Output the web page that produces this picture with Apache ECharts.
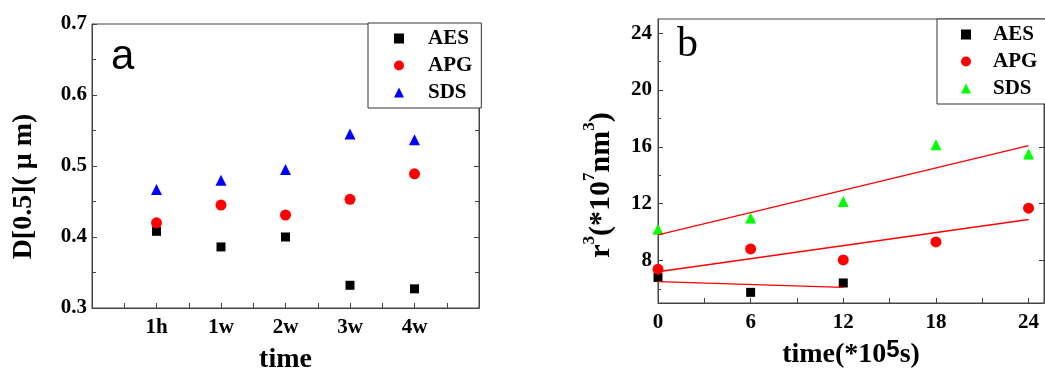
<!DOCTYPE html>
<html><head><meta charset="utf-8">
<script src="https://cdn.jsdelivr.net/npm/echarts@6/dist/echarts.min.js"></script>
<style>html,body{margin:0;padding:0;background:#fff}#c{width:1045px;height:369px}</style>
</head><body><div id="c"></div>
<script>
// Panel a
const catA = ['1h', '1w', '2w', '3w', '4w'];
const posA = [1, 2, 3, 4, 5];
const aesA = [0.408, 0.386, 0.400, 0.332, 0.327];
const apgA = [0.420, 0.445, 0.431, 0.453, 0.489];
const sdsA = [0.467, 0.480, 0.495, 0.545, 0.537];
// Panel b
const timeAesB = [0, 6, 12];
const aesB = [6.8, 5.75, 6.41];
const timeB = [0, 6, 12, 18, 24];
const apgB = [7.38, 8.81, 8.03, 9.3, 11.68];
const sdsB = [10.2, 10.98, 12.15, 16.15, 15.5];
const fitXAes = [0, 12];
const fitAes = [6.5, 6.1];
const fitX = [0, 24];
const fitApg = [7.2, 10.88];
const fitSds = [9.8, 16.08];
const yMajorB = [8, 12, 16, 20, 24];
const yMinorB = [6, 10, 14, 18, 22];

const SERIF = 'Liberation Serif';
const AX = '#444';
const zip = (xs, ys) => xs.map((x, i) => [x, ys[i]]);
const tickFont = { fontFamily: SERIF, fontWeight: 'bold', fontSize: 21, color: '#000' };

const chart = echarts.init(document.getElementById('c'), null, { renderer: 'canvas' });
const option = {
  animation: false,
  backgroundColor: '#fff',
  grid: [
    { left: 92, top: 24, width: 387, height: 284, outerBoundsMode: 'none', containLabel: false, show: true, borderColor: AX, borderWidth: 1, backgroundColor: 'transparent' },
    { left: 658, top: 19, width: 386, height: 284, outerBoundsMode: 'none', containLabel: false, show: true, borderColor: AX, borderWidth: 1, backgroundColor: 'transparent' }
  ],
  xAxis: [
    { gridIndex: 0, type: 'value', min: 0, max: 6, interval: 1,
      axisLine: { show: true, lineStyle: { color: AX, width: 1 } },
      axisTick: { show: true, inside: true, length: 5, lineStyle: { color: AX } },
      minorTick: { show: true, splitNumber: 2, length: 5, lineStyle: { color: AX } },
      splitLine: { show: false }, minorSplitLine: { show: false },
      axisLabel: Object.assign({ margin: 9, formatter: v => { const i = posA.indexOf(v); return i >= 0 ? catA[i] : ''; } }, tickFont),
      name: 'time', nameLocation: 'middle', nameGap: 38,
      nameTextStyle: { fontFamily: SERIF, fontWeight: 'bold', fontSize: 28, color: '#000' } },
    { gridIndex: 1, type: 'value', min: 0, max: 25, interval: 3,
      axisLine: { show: true, lineStyle: { color: AX, width: 1 } },
      axisTick: { show: true, inside: true, length: 5, lineStyle: { color: AX } },
      splitLine: { show: false },
      axisLabel: Object.assign({ margin: 9, formatter: v => (v % 6 === 0 ? String(v) : '') }, tickFont),
      name: '{m|time(*10}{e|5}{m|s)}', nameLocation: 'middle', nameGap: 31,
      nameTextStyle: { rich: {
        m: { fontFamily: SERIF, fontWeight: 'bold', fontSize: 28, color: '#000' },
        e: { fontFamily: 'Liberation Sans', fontWeight: 'bold', fontSize: 24, color: '#000', verticalAlign: 'top', padding: [0, 0, 10, 0] }
      } } }
  ],
  yAxis: [
    { gridIndex: 0, type: 'value', min: 0.3, max: 0.7, interval: 0.1, position: 'left',
      axisLine: { show: true, lineStyle: { color: AX, width: 1 } },
      axisTick: { show: true, inside: true, length: 5, lineStyle: { color: AX } },
      minorTick: { show: true, splitNumber: 2, length: 4, lineStyle: { color: AX } },
      splitLine: { show: false }, minorSplitLine: { show: false },
      axisLabel: Object.assign({ margin: 5, formatter: v => v.toFixed(1) }, tickFont),
      name: 'D[0.5]( μ m)', nameLocation: 'middle', nameGap: 54,
      nameTextStyle: { fontFamily: SERIF, fontWeight: 'bold', fontSize: 28, color: '#000', padding: [0, 41, 0, 0] } },
    { gridIndex: 0, type: 'value', min: 0.3, max: 0.7, interval: 0.1, position: 'right',
      axisLine: { show: true, lineStyle: { color: AX, width: 1 } },
      axisTick: { show: true, inside: true, length: 5, lineStyle: { color: AX } },
      minorTick: { show: true, splitNumber: 2, length: 4, lineStyle: { color: AX } },
      splitLine: { show: false }, minorSplitLine: { show: false },
      axisLabel: { show: false } },
    { gridIndex: 1, type: 'value', min: 5, max: 25, position: 'left',
      axisLine: { show: true, lineStyle: { color: AX, width: 1 } },
      axisTick: { show: true, inside: true, length: 5, customValues: yMajorB, lineStyle: { color: AX } },
      splitLine: { show: false },
      axisLabel: Object.assign({ margin: 6, customValues: yMajorB }, tickFont),
      name: '{m|r}{s|3}{m|(*10}{s|7}{m|nm}{s|3}{m|)}', nameLocation: 'middle', nameGap: 36,
      nameTextStyle: { padding: [0, 48, 0, 0], rich: {
        m: { fontFamily: SERIF, fontWeight: 'bold', fontSize: 30, color: '#000' },
        s: { fontFamily: SERIF, fontWeight: 'bold', fontSize: 17, color: '#000', verticalAlign: 'top', padding: [0, 0, 24, 0] }
      } } },
    { gridIndex: 1, type: 'value', min: 5, max: 25, position: 'left',
      axisLine: { show: false },
      axisTick: { show: true, inside: true, length: 3, customValues: yMinorB, lineStyle: { color: AX } },
      splitLine: { show: false }, axisLabel: { show: false } },
    { gridIndex: 1, type: 'value', min: 5, max: 25, position: 'right',
      axisLine: { show: true, lineStyle: { color: AX, width: 1 } },
      axisTick: { show: true, inside: true, length: 5, customValues: yMajorB, lineStyle: { color: AX } },
      splitLine: { show: false }, axisLabel: { show: false } }
  ],
  legend: [
    { data: ['AES', 'APG', 'SDS'], orient: 'vertical', left: 368, top: 23,
      padding: [5, 9, 5, 26], itemWidth: 10, itemHeight: 10, itemGap: 6, selectedMode: false,
      borderColor: '#333', borderWidth: 1, backgroundColor: '#fff',
      textStyle: { fontFamily: SERIF, fontWeight: 'bold', fontSize: 21, lineHeight: 21, color: '#000', padding: [0, 0, 0, 19] } },
    { data: ['AES_b', 'APG_b', 'SDS_b'], orient: 'vertical', left: 937, top: 19,
      formatter: n => n.replace('_b', ''),
      padding: [5, 9, 5, 24], itemWidth: 10, itemHeight: 10, itemGap: 6, selectedMode: false,
      borderColor: '#333', borderWidth: 1, backgroundColor: '#fff',
      textStyle: { fontFamily: SERIF, fontWeight: 'bold', fontSize: 21, lineHeight: 21, color: '#000', padding: [0, 0, 0, 17] } }
  ],
  graphic: [
    { type: 'text', left: 111, top: 36, style: { text: 'a', font: '42px "Liberation Sans"', fill: '#000' } },
    { type: 'text', left: 677, top: 24, style: { text: 'b', font: '42px "Liberation Serif"', fill: '#000' } }
  ],
  series: [
    { type: 'scatter', name: 'AES', xAxisIndex: 0, yAxisIndex: 0, symbol: 'rect', symbolSize: 9, itemStyle: { color: '#000', opacity: 1 }, data: zip(posA, aesA) },
    { type: 'scatter', name: 'APG', xAxisIndex: 0, yAxisIndex: 0, symbol: 'circle', symbolSize: 11, itemStyle: { color: '#ff0000', opacity: 1 }, data: zip(posA, apgA) },
    { type: 'scatter', name: 'SDS', xAxisIndex: 0, yAxisIndex: 0, symbol: 'triangle', symbolSize: 11, itemStyle: { color: '#0000ff', opacity: 1 }, data: zip(posA, sdsA) },
    { type: 'line', name: 'fitAES', xAxisIndex: 1, yAxisIndex: 2, showSymbol: false, symbol: 'none', lineStyle: { color: '#ff0000', width: 1.3 }, data: zip(fitXAes, fitAes) },
    { type: 'line', name: 'fitAPG', xAxisIndex: 1, yAxisIndex: 2, showSymbol: false, symbol: 'none', lineStyle: { color: '#ff0000', width: 1.3 }, data: zip(fitX, fitApg) },
    { type: 'line', name: 'fitSDS', xAxisIndex: 1, yAxisIndex: 2, showSymbol: false, symbol: 'none', lineStyle: { color: '#ff0000', width: 1.3 }, data: zip(fitX, fitSds) },
    { type: 'scatter', name: 'AES_b', xAxisIndex: 1, yAxisIndex: 2, symbol: 'rect', symbolSize: 9, itemStyle: { color: '#000', opacity: 1 }, data: zip(timeAesB, aesB) },
    { type: 'scatter', name: 'APG_b', xAxisIndex: 1, yAxisIndex: 2, symbol: 'circle', symbolSize: 11, itemStyle: { color: '#ff0000', opacity: 1 }, data: zip(timeB, apgB) },
    { type: 'scatter', name: 'SDS_b', xAxisIndex: 1, yAxisIndex: 2, symbol: 'triangle', symbolSize: 11, itemStyle: { color: '#00ff00', opacity: 1 }, data: zip(timeB, sdsB) }
  ]
};
chart.setOption(option);
</script>
</body></html>
